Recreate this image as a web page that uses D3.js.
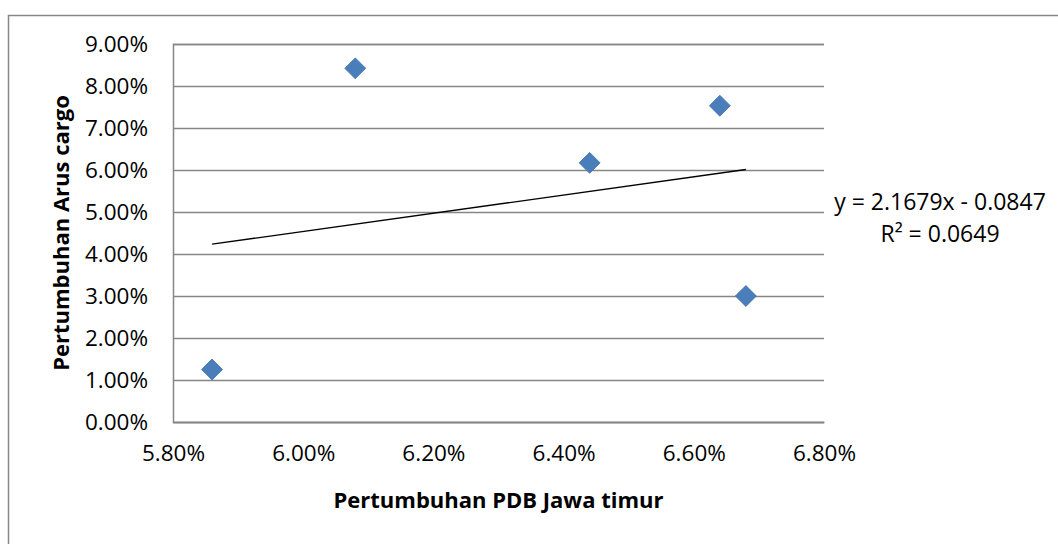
<!DOCTYPE html>
<html>
<head>
<meta charset="utf-8">
<script src="https://cdn.jsdelivr.net/npm/d3@7"></script>
<style>
  body { margin: 0; background: #fff; }
  text { font-family: "Open Sans", "Liberation Sans", sans-serif; }
</style>
</head>
<body>
<div id="chart"></div>
<script>
// data
const pdbGrowth = [0.0586, 0.0608, 0.0644, 0.0664, 0.0668];
const cargoGrowth = [0.0125, 0.0842, 0.0617, 0.0753, 0.0300];
const xTicks = [0.058, 0.060, 0.062, 0.064, 0.066, 0.068];
const yTicks = [0, 0.01, 0.02, 0.03, 0.04, 0.05, 0.06, 0.07, 0.08, 0.09];
const trendSlope = 2.1679, trendIntercept = -0.0847;
const trendLabel = ['y = 2.1679x - 0.0847', 'R² = 0.0649'];

const W = 1058, H = 544;
const plot = { left: 173, right: 824, top: 44, bottom: 422 };

const svg = d3.select('#chart').append('svg')
  .attr('width', W)
  .attr('height', H);

// outer chart frame (runs off the right and bottom)
svg.append('path')
  .attr('d', 'M8.5,' + (H + 2) + 'V15.5H' + (W + 2))
  .attr('fill', 'none')
  .attr('stroke', '#878787')
  .attr('stroke-width', 1.5);

const x = d3.scaleLinear().domain([0.058, 0.068]).range([plot.left, plot.right]);
const y = d3.scaleLinear().domain([0, 0.09]).range([plot.bottom, plot.top]);
const pct = d3.format('.2%');

// gridlines + y axis
const yAxis = d3.axisLeft(y)
  .tickValues(yTicks)
  .tickFormat(pct)
  .tickSize(-(plot.right - plot.left))
  .tickPadding(25);
const gy = svg.append('g')
  .attr('transform', 'translate(' + plot.left + ',0)')
  .call(yAxis);
gy.select('.domain').attr('stroke', '#868686').attr('stroke-width', 1.5);
gy.selectAll('.tick line').attr('stroke', '#868686').attr('stroke-width', 1.3);
gy.selectAll('.tick text')
  .attr('fill', '#000')
  .style('font-size', '22.5px');

// x axis (labels only)
const xAxis = d3.axisBottom(x)
  .tickValues(xTicks)
  .tickFormat(pct)
  .tickSize(0)
  .tickPadding(23);
const gx = svg.append('g')
  .attr('transform', 'translate(0,' + plot.bottom + ')')
  .call(xAxis);
gx.select('.domain').attr('stroke', '#868686').attr('stroke-width', 1.5);
gx.selectAll('.tick text')
  .attr('fill', '#000')
  .style('font-size', '22.5px');

// trendline
const xMin = d3.min(pdbGrowth), xMax = d3.max(pdbGrowth);
const trend = d3.line()
  .x(d => x(d))
  .y(d => y(trendSlope * d + trendIntercept));
svg.append('path')
  .attr('d', trend([xMin, xMax]))
  .attr('stroke', '#000')
  .attr('stroke-width', 1.3)
  .attr('fill', 'none');

// markers
const points = pdbGrowth.map((v, i) => ({ x: v, y: cargoGrowth[i] }));
svg.selectAll('path.pt')
  .data(points)
  .enter()
  .append('path')
  .attr('class', 'pt')
  .attr('d', d3.symbol().type(d3.symbolDiamond2).size(280))
  .attr('transform', d => 'translate(' + x(d.x) + ',' + y(d.y) + ')')
  .attr('fill', '#4a7ebb')
  .attr('stroke', '#3f6fa8')
  .attr('stroke-width', 0.8);

// trendline label
const lbl = svg.append('text')
  .attr('text-anchor', 'middle')
  .style('font-size', '23px')
  .attr('fill', '#000');
lbl.selectAll('tspan')
  .data(trendLabel)
  .enter()
  .append('tspan')
  .attr('x', 940)
  .attr('y', (d, i) => 210 + i * 32)
  .text(d => d);

// axis titles
svg.append('text')
  .attr('x', (plot.left + plot.right) / 2)
  .attr('y', 508)
  .attr('text-anchor', 'middle')
  .style('font-size', '22px')
  .style('font-weight', 'bold')
  .text('Pertumbuhan PDB Jawa timur');

svg.append('text')
  .attr('transform', 'translate(69,' + ((plot.top + plot.bottom) / 2) + ') rotate(-90)')
  .attr('text-anchor', 'middle')
  .style('font-size', '22px')
  .style('font-weight', 'bold')
  .text('Pertumbuhan Arus cargo');
</script>
</body>
</html>
